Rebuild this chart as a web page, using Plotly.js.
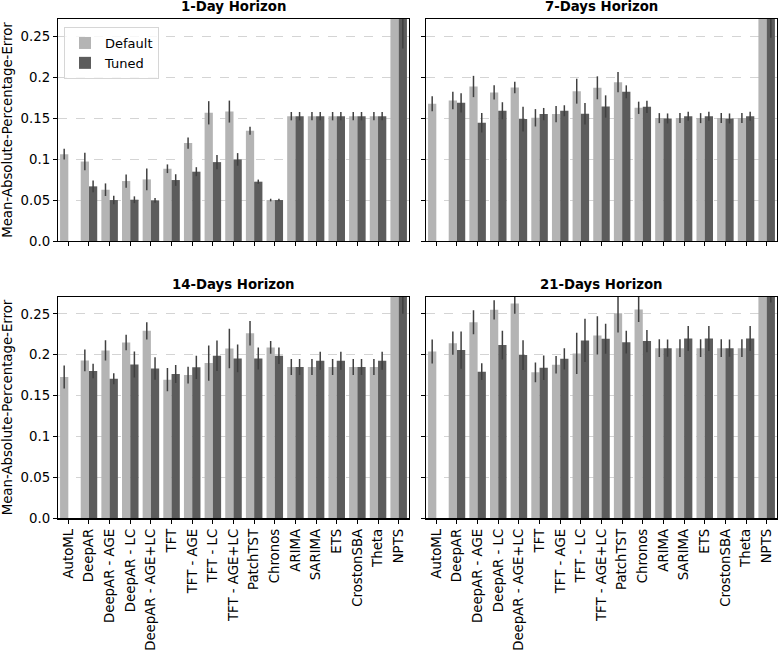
<!DOCTYPE html>
<html>
<head>
<meta charset="utf-8">
<script src="https://cdn.plot.ly/plotly-3.0.1.min.js"></script>
<style>html,body{margin:0;padding:0;background:#fff;}#chart{width:778px;height:653px;}</style>
</head>
<body>
<div id="chart"></div>
<script>
const models = ["AutoML","DeepAR","DeepAR - AGE","DeepAR - LC","DeepAR - AGE+LC","TFT","TFT - AGE","TFT - LC","TFT - AGE+LC","PatchTST","Chronos","ARIMA","SARIMA","ETS","CrostonSBA","Theta","NPTS"];
const horizons = ["1-Day Horizon","7-Days Horizon","14-Days Horizon","21-Days Horizon"];
const yTickVals = [0, 0.05, 0.1, 0.15, 0.2, 0.25];
const yTickText = ["0.0","0.05","0.1","0.15","0.2","0.25"];

// 1-Day
const default1 = [0.106,0.097,0.0626,0.0732,0.0752,0.0882,0.1195,0.1565,0.158,0.1346,0.050,0.1524,0.1524,0.1524,0.1524,0.1524,0.36];
const default1Err = [0.0065,0.0106,0.0077,0.0081,0.0132,0.0053,0.0069,0.0142,0.0134,0.0049,0.0016,0.0051,0.0051,0.0051,0.0051,0.0051,0.06];
const tuned1 = [null,0.0667,0.050,0.0504,0.0496,0.0744,0.0846,0.0963,0.0996,0.0724,0.050,0.1524,0.1524,0.1524,0.1524,0.1524,0.30];
const tuned1Err = [null,0.0071,0.0051,0.0041,0.0030,0.0071,0.0055,0.0087,0.0077,0.0026,0.0016,0.0051,0.0051,0.0051,0.0051,0.0051,0.065];
// 7-Days
const default7 = [0.1675,0.1715,0.1886,0.1813,0.1874,0.1504,0.1549,0.1829,0.187,0.1939,0.1626,0.150,0.150,0.150,0.150,0.150,0.37];
const default7Err = [0.0091,0.0108,0.013,0.0087,0.0069,0.0106,0.0098,0.0152,0.014,0.0124,0.0075,0.0061,0.0061,0.0061,0.0061,0.0061,0.06];
const tuned7 = [null,0.1687,0.1443,0.159,0.1488,0.1549,0.159,0.1553,0.1642,0.1821,0.1638,0.1496,0.1524,0.1524,0.1496,0.1524,0.32];
const tuned7Err = [null,0.0118,0.0118,0.0104,0.0152,0.0075,0.0067,0.0132,0.0136,0.0079,0.0075,0.0061,0.0055,0.0055,0.0061,0.0055,0.072];
// 14-Days
const default14 = [0.1728,0.1931,0.2053,0.215,0.2293,0.1695,0.1752,0.1898,0.2077,0.2264,0.209,0.185,0.185,0.185,0.185,0.185,0.38];
const default14Err = [0.014,0.0132,0.0124,0.0096,0.0106,0.0142,0.0102,0.0215,0.0242,0.015,0.0077,0.0098,0.0098,0.0098,0.0098,0.0098,0.06];
const tuned14 = [null,0.1801,0.1707,0.1882,0.1833,0.1764,0.1846,0.1988,0.1955,0.1955,0.1988,0.185,0.1927,0.1927,0.185,0.1927,0.33];
const tuned14Err = [null,0.0089,0.0067,0.0159,0.0138,0.011,0.0142,0.0187,0.0169,0.0134,0.0102,0.0098,0.011,0.011,0.0098,0.011,0.08];
// 21-Days
const default21 = [0.204,0.2142,0.2398,0.2549,0.2626,0.1785,0.1878,0.2016,0.2236,0.2508,0.2553,0.2081,0.2081,0.2081,0.2081,0.2081,0.40];
const default21Err = [0.0148,0.0142,0.0146,0.0118,0.0126,0.012,0.0106,0.0252,0.0234,0.0236,0.0152,0.0108,0.0108,0.0108,0.0108,0.0108,0.06];
const tuned21 = [null,0.2057,0.1793,0.2118,0.1996,0.1841,0.1951,0.2175,0.2195,0.2154,0.2167,0.2081,0.2199,0.2199,0.2081,0.2199,0.34];
const tuned21Err = [null,0.0228,0.0102,0.0175,0.0181,0.015,0.013,0.0264,0.0183,0.014,0.0136,0.0106,0.0152,0.0152,0.0106,0.0152,0.076];

const defaults = [default1, default7, default14, default21];
const defaultErrs = [default1Err, default7Err, default14Err, default21Err];
const tuneds = [tuned1, tuned7, tuned14, tuned21];
const tunedErrs = [tuned1Err, tuned7Err, tuned14Err, tuned21Err];

const LIGHT = "#b4b4b4", DARK = "#5c5c5c", ERR = "#404040";
const FS = 13.3;
const W = 778, H = 653;
const xDomains = [[58/W, 409/W],[426/W, 777/W],[58/W, 409/W],[426/W, 777/W]];
const yDomains = [[1-241/H, 1-19/H],[1-241/H, 1-19/H],[1-518.3/H, 1-296.7/H],[1-518.3/H, 1-296.7/H]];

const traces = [];
const layout = {
  width: W, height: H,
  margin: {l:0, r:0, t:0, b:0},
  paper_bgcolor: "#ffffff", plot_bgcolor: "#ffffff",
  font: {family: "DejaVu Sans", size: FS, color: "#000000"},
  barmode: "group", bargap: 0.2, bargroupgap: 0,
  showlegend: true,
  legend: {x: 64/W, y: 1-27/H, xanchor: "left", yanchor: "top",
           bgcolor: "rgba(255,255,255,0.8)", bordercolor: "#d6d6d6", borderwidth: 1,
           font: {size: 13}, itemwidth: 30, tracegroupgap: 0},
  annotations: []
};

for (let i = 0; i < 4; i++) {
  const sfx = i === 0 ? "" : String(i+1);
  traces.push({
    type: "bar", name: "Default", x: models, y: defaults[i],
    xaxis: "x"+sfx, yaxis: "y"+sfx,
    marker: {color: LIGHT, line: {width: 0}},
    error_y: {type: "data", array: defaultErrs[i], visible: true, color: ERR, thickness: 1.5, width: 0},
    legendgroup: "d", showlegend: i === 0
  });
  traces.push({
    type: "bar", name: "Tuned", x: models, y: tuneds[i],
    xaxis: "x"+sfx, yaxis: "y"+sfx,
    marker: {color: DARK, line: {width: 0}},
    error_y: {type: "data", array: tunedErrs[i], visible: true, color: ERR, thickness: 1.5, width: 0},
    legendgroup: "t", showlegend: i === 0
  });
  const bottom = i >= 2, left = (i % 2) === 0;
  layout["xaxis"+sfx] = {
    domain: xDomains[i], anchor: "y"+sfx, type: "category",
    range: [-0.5, 16.5], categoryorder: "array", categoryarray: models,
    showline: true, mirror: true, linecolor: "#000000", linewidth: 1.2,
    ticks: "outside", ticklen: 4, tickwidth: 1, tickcolor: "#000000",
    showticklabels: bottom, tickangle: -90, tickfont: {size: FS},
    showgrid: false, zeroline: false, fixedrange: true
  };
  layout["yaxis"+sfx] = {
    domain: yDomains[i], anchor: "x"+sfx, range: [0, 0.271],
    tickvals: yTickVals, ticktext: yTickText,
    showline: true, mirror: true, linecolor: "#000000", linewidth: 1.2,
    ticks: "outside", ticklen: 4, tickwidth: 1, tickcolor: "#000000",
    showticklabels: left, tickfont: {size: FS},
    showgrid: true, gridcolor: "#d4d4d4", griddash: "dash", gridwidth: 1,
    zeroline: false, fixedrange: true,
    title: left ? {text: "Mean-Absolute-Percentage-Error", font: {size: FS}, standoff: 4} : {text: ""}
  };
  layout.annotations.push({
    text: "<b>" + horizons[i] + "</b>",
    xref: "paper", yref: "paper",
    x: (xDomains[i][0] + xDomains[i][1]) / 2, y: yDomains[i][1],
    xanchor: "center", yanchor: "bottom", yshift: 3, showarrow: false,
    font: {size: FS, family: "DejaVu Sans", color: "#000000"}
  });
}

Plotly.newPlot("chart", traces, layout, {displayModeBar: false, staticPlot: true});
</script>
</body>
</html>
